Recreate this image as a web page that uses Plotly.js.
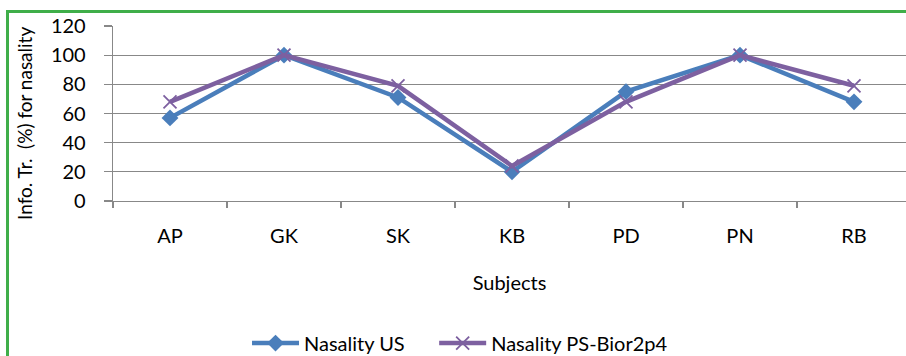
<!DOCTYPE html>
<html>
<head>
<meta charset="utf-8">
<script src="https://cdn.plot.ly/plotly-3.0.1.min.js"></script>
<style>
html,body{margin:0;padding:0;background:#fff;overflow:hidden;}
#wrap{position:relative;width:906px;height:356px;}
#chart{position:absolute;left:0;top:0;width:906px;height:356px;}
#frame{position:absolute;left:6px;top:10px;width:960px;height:400px;border-top:3px solid #3fae49;border-left:3px solid #3fae49;pointer-events:none;}
</style>
</head>
<body>
<div id="wrap"><div id="chart"></div><div id="frame"></div></div>
<script>
const subjects = ["AP", "GK", "SK", "KB", "PD", "PN", "RB"];
const nasalityUS = [57, 100, 71, 20, 75, 100, 68];
const nasalityPS = [68, 100, 79, 24, 68, 100, 79];
const seriesNames = ["Nasality US", "Nasality PS-Bior2p4"];
const yTicks = [0, 20, 40, 60, 80, 100, 120];
const yTitle = "Info. Tr.  (%) for nasality";
const xTitle = "Subjects";

const FONT = "Lato, 'Open Sans', sans-serif";
const FS = 20;

const traces = [
  {
    x: subjects, y: nasalityUS, name: seriesNames[0], type: "scatter", mode: "lines+markers",
    legend: "legend",
    line: {color: "#4a7ebb", width: 4.5},
    marker: {symbol: "diamond", size: 13, color: "#4a7ebb"}
  },
  {
    x: subjects, y: nasalityPS, name: seriesNames[1], type: "scatter", mode: "lines+markers",
    legend: "legend2",
    line: {color: "#7d60a0", width: 4.5},
    marker: {symbol: "x-thin-open", size: 13, color: "#7d60a0", line: {color: "#7d60a0", width: 1.8}}
  }
];

const legendBase = {orientation: "h", xanchor: "left", y: -0.812, yanchor: "middle",
  font: {family: FONT, size: FS, color: "#000"}, itemwidth: 47, bgcolor: "rgba(0,0,0,0)"};

const layout = {
  width: 906, height: 356,
  margin: {l: 113, r: 0, t: 26, b: 155, pad: 0, autoexpand: false},
  paper_bgcolor: "#ffffff", plot_bgcolor: "#ffffff",
  font: {family: FONT, size: FS, color: "#000"},
  showlegend: true,
  legend: Object.assign({}, legendBase, {x: 0.169}),
  legend2: Object.assign({}, legendBase, {x: 0.405}),
  xaxis: {
    type: "category", range: [-0.5, 6.456], tickson: "boundaries", automargin: false,
    ticks: "outside", ticklen: 6, tickcolor: "#888", tickwidth: 1.3,
    showline: true, linecolor: "#888", linewidth: 1.3,
    showgrid: false, zeroline: false,
    ticklabelstandoff: 17,
    tickfont: {family: FONT, size: FS, color: "#000"},
    title: {text: xTitle, font: {family: FONT, size: FS, color: "#000"}, standoff: 29}
  },
  yaxis: {
    range: [0, 120], tickvals: yTicks, ticktext: yTicks.map(String), automargin: false,
    ticks: "outside", ticklen: 8, tickcolor: "#888", tickwidth: 1.3,
    showline: true, linecolor: "#888", linewidth: 1.3,
    showgrid: true, gridcolor: "#888", gridwidth: 1.3, zeroline: false,
    ticklabelstandoff: 14,
    tickfont: {family: FONT, size: FS, color: "#000"}
  },
  annotations: [
    {text: yTitle, xref: "paper", yref: "paper", x: -0.111, y: 0.446,
     xanchor: "center", yanchor: "middle", textangle: -90, showarrow: false,
     font: {family: FONT, size: 19, color: "#000"}}
  ]
};

Plotly.newPlot("chart", traces, layout, {displayModeBar: false, staticPlot: true});
</script>
</body>
</html>
